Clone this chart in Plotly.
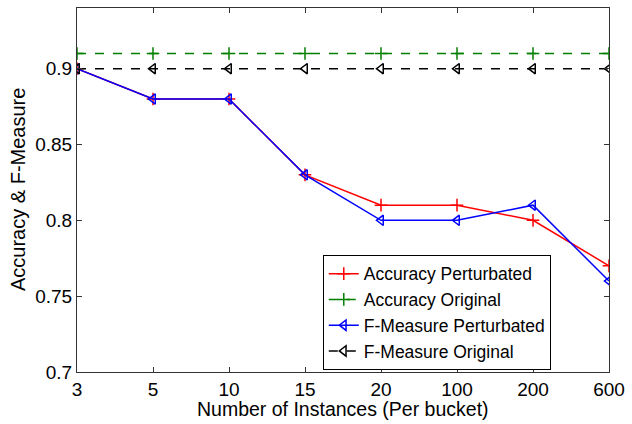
import plotly.graph_objects as go

categories = ["3", "5", "10", "15", "20", "100", "200", "600"]
acc_pert = [0.90, 0.88, 0.88, 0.83, 0.81, 0.81, 0.80, 0.77]
acc_orig = [0.91] * 8
f_pert = [0.90, 0.88, 0.88, 0.83, 0.80, 0.80, 0.81, 0.76]
f_orig = [0.90] * 8
y_ticks = [0.7, 0.75, 0.8, 0.85, 0.9]
y_labels = ["0.7", "0.75", "0.8", "0.85", "0.9"]

xs = list(range(len(categories)))
FONT = "Liberation Sans, Arial, sans-serif"

fig = go.Figure()
fig.add_trace(go.Scatter(x=xs, y=acc_pert, name="Accuracy Perturbated", mode="lines+markers",
                         line=dict(color="#ff0000", width=1.5),
                         marker=dict(symbol="cross-thin-open", size=9, line=dict(color="#ff0000", width=1.5))))
fig.add_trace(go.Scatter(x=xs, y=acc_orig, name="Accuracy Original", mode="lines+markers",
                         line=dict(color="#008000", width=1.5, dash="dash"),
                         marker=dict(symbol="cross-thin-open", size=9, line=dict(color="#008000", width=1.5))))
fig.add_trace(go.Scatter(x=xs, y=f_pert, name="F-Measure Perturbated", mode="lines+markers",
                         line=dict(color="#0000ff", width=1.5),
                         marker=dict(symbol="triangle-left-open", size=9, color="#0000ff", line=dict(color="#0000ff", width=1.5))))
fig.add_trace(go.Scatter(x=xs, y=f_orig, name="F-Measure Original", mode="lines+markers",
                         line=dict(color="#000000", width=1.5, dash="dash"),
                         marker=dict(symbol="triangle-left-open", size=9, color="#000000", line=dict(color="#000000", width=1.5))))

fig.update_layout(
    width=632, height=424,
    margin=dict(l=77, r=18, t=7, b=52),
    paper_bgcolor="white", plot_bgcolor="white",
    font=dict(family=FONT, size=19, color="black"),
    showlegend=True,
    legend=dict(x=0.462, y=0.322, xanchor="left", yanchor="top",
                bgcolor="white", bordercolor="black", borderwidth=1,
                font=dict(family=FONT, size=17.5), tracegroupgap=0,
                entrywidth=254, entrywidthmode="pixels"),
)
fig.update_xaxes(range=[0, 7], tickmode="array", tickvals=xs, ticktext=categories,
                 ticks="inside", ticklen=5, tickcolor="#333", showgrid=False, zeroline=False,
                 showline=True, linecolor="#333", linewidth=1, mirror="ticks",
                 tickfont=dict(family=FONT, size=19, color="black"))
fig.update_yaxes(range=[0.7, 0.94], tickmode="array", tickvals=y_ticks, ticktext=y_labels,
                 ticks="inside", ticklen=5, tickcolor="#333", showgrid=False, zeroline=False,
                 showline=True, linecolor="#333", linewidth=1, mirror="ticks",
                 tickfont=dict(family=FONT, size=19, color="black"))

fig.add_annotation(text="Number of Instances (Per bucket)", xref="paper", yref="paper",
                   x=0.5, y=0, yshift=-37, xanchor="center", yanchor="middle", showarrow=False,
                   font=dict(family=FONT, size=19.5, color="black"))
fig.add_annotation(text="Accuracy & F-Measure", xref="paper", yref="paper",
                   x=0, y=0.5, xshift=-59, xanchor="center", yanchor="middle", showarrow=False,
                   textangle=-90, font=dict(family=FONT, size=20, color="black"))

fig.write_html("out.html")
